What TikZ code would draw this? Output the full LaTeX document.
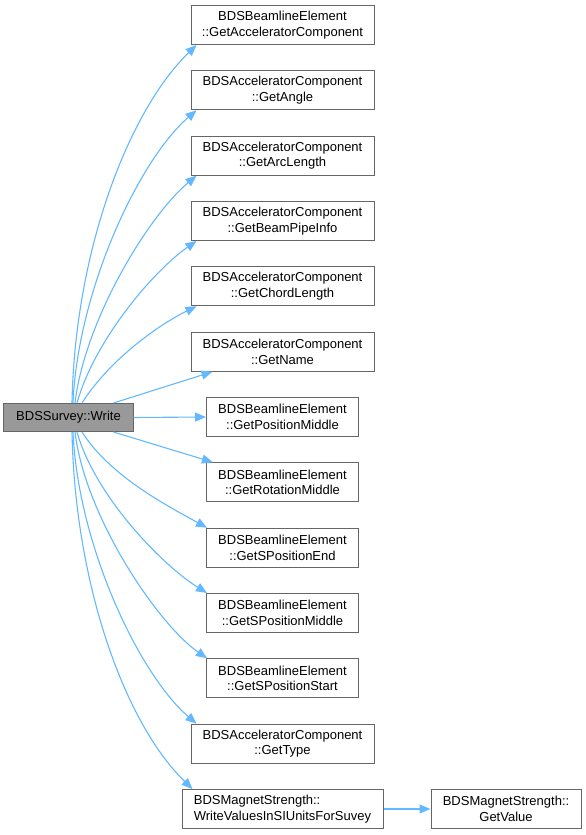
\documentclass[tikz,border=0pt]{standalone}
\usepackage{fontspec}
\setmainfont{Liberation Sans}
\usetikzlibrary{arrows.meta}
\definecolor{edgeblue}{RGB}{99,184,255}
\definecolor{boxline}{RGB}{102,102,102}
\definecolor{writefill}{RGB}{153,153,153}
\begin{document}
\begin{tikzpicture}[x=1bp,y=-1bp,
  fn/.style={draw=boxline,line width=1bp,fill=white,rectangle,inner sep=0pt,align=center,
    font=\fontsize{13bp}{15.5bp}\selectfont,minimum height=39bp},
  wide/.style={fn,minimum width=183bp},
  narrow/.style={fn,minimum width=152bp},
  call/.style={draw=edgeblue,line width=1.1bp,-{Triangle[length=11bp,width=9bp]}}]
\useasboundingbox (0,0) rectangle (586,835);
\node[fn,fill=writefill,minimum width=129bp,minimum height=28bp] (w) at (68.5,417.5) {BDSSurvey::Write};
\node[wide] (t1) at (282.5,25) {BDSBeamlineElement\\::GetAcceleratorComponent};
\node[wide] (t2) at (282.5,90.3) {BDSAcceleratorComponent\\::GetAngle};
\node[wide] (t3) at (282.5,155.7) {BDSAcceleratorComponent\\::GetArcLength};
\node[wide] (t4) at (282.5,221) {BDSAcceleratorComponent\\::GetBeamPipeInfo};
\node[wide] (t5) at (282.5,286.3) {BDSAcceleratorComponent\\::GetChordLength};
\node[wide] (t6) at (282.5,351.7) {BDSAcceleratorComponent\\::GetName};
\node[narrow] (t7) at (282.5,417) {BDSBeamlineElement\\::GetPositionMiddle};
\node[narrow] (t8) at (282.5,482.3) {BDSBeamlineElement\\::GetRotationMiddle};
\node[narrow] (t9) at (282.5,547.7) {BDSBeamlineElement\\::GetSPositionEnd};
\node[narrow] (t10) at (282.5,613) {BDSBeamlineElement\\::GetSPositionMiddle};
\node[narrow] (t11) at (282.5,678.3) {BDSBeamlineElement\\::GetSPositionStart};
\node[wide] (t12) at (282.5,743.7) {BDSAcceleratorComponent\\::GetType};
\node[fn,minimum width=201bp,align=left] (t13) at (282.5,809) {BDSMagnetStrength::\\WriteValuesInSIUnitsForSuvey};
\node[fn,minimum width=150bp] (t14) at (506,809) {BDSMagnetStrength::\\GetValue};
% upward edges
\draw[call] ([xshift=3.5bp]w.north) .. controls +(3,-154) and +(-67,65) .. ([xshift=6bp]t1.south west);
\draw[call] ([xshift=4.5bp]w.north) .. controls +(5,-114) and +(-57,49) .. ([xshift=6bp]t2.south west);
\draw[call] ([xshift=6.5bp]w.north) .. controls +(10,-84) and +(-47,39) .. ([xshift=6bp]t3.south west);
\draw[call] ([xshift=8.5bp]w.north) .. controls +(18,-64) and +(-42,29) .. ([xshift=6bp]t4.south west);
\draw[call] ([xshift=13.5bp]w.north) .. controls +(28,-44) and +(-37,18) .. ([xshift=6bp]t5.south west);
\draw[call] ([xshift=-20bp]w.north east) -- ([xshift=22bp]t6.south west);
\draw[call] (w.east) -- (t7.west);
% downward edges
\draw[call] ([xshift=-20bp]w.south east) -- ([xshift=7bp]t8.north west);
\draw[call] ([xshift=13.5bp]w.south) .. controls +(28,44) and +(-40,-22) .. ([xshift=1bp]t9.north west);
\draw[call] ([xshift=8.5bp]w.south) .. controls +(18,64) and +(-45,-28) .. ([xshift=1bp]t10.north west);
\draw[call] ([xshift=6.5bp]w.south) .. controls +(10,84) and +(-50,-35) .. ([xshift=1bp]t11.north west);
\draw[call] ([xshift=4.5bp]w.south) .. controls +(5,114) and +(-57,-49) .. ([xshift=6bp]t12.north west);
\draw[call] ([xshift=3.5bp]w.south) .. controls +(3,154) and +(-67,-65) .. ([xshift=11bp]t13.north west);
\draw[call] (t13.east) -- (t14.west);
\end{tikzpicture}
\end{document}
